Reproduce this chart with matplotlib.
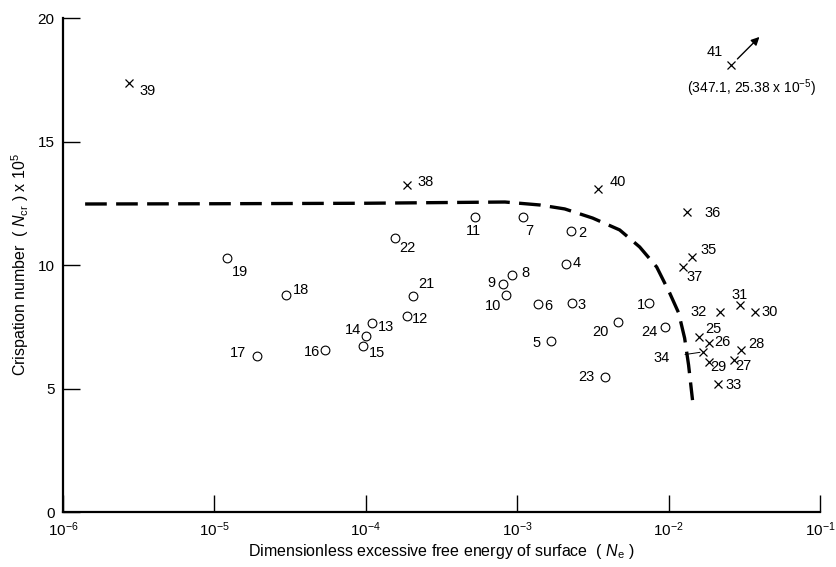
import matplotlib
matplotlib.use("Agg")
import matplotlib.pyplot as plt
from matplotlib.ticker import NullLocator, FixedLocator
from matplotlib.transforms import offset_copy

plt.rcParams['font.family'] = ['Liberation Sans', 'DejaVu Sans']
plt.rcParams['mathtext.fontset'] = 'custom'
plt.rcParams['mathtext.rm'] = 'Liberation Sans'
plt.rcParams['mathtext.it'] = 'Liberation Sans:italic'

# ---- data: open circles ----
circle_ids = ["1", "2", "3", "4", "5", "6", "7", "8", "9", "10", "11", "12",
              "13", "14", "15", "16", "17", "18", "19", "20", "21", "22", "23", "24"]
circle_x = [7.4e-3, 2.25e-3, 2.29e-3, 2.09e-3, 1.66e-3, 1.37e-3, 1.10e-3, 9.3e-4,
            8.1e-4, 8.4e-4, 5.3e-4, 1.87e-4, 1.10e-4, 1.0e-4, 9.55e-5, 5.4e-5,
            1.91e-5, 2.96e-5, 1.21e-5, 4.6e-3, 2.04e-4, 1.55e-4, 3.78e-3, 9.5e-3]
circle_y = [8.46, 11.38, 8.46, 10.04, 6.92, 8.42, 11.94, 9.60,
            9.23, 8.79, 11.94, 7.94, 7.65, 7.13, 6.72, 6.56,
            6.32, 8.79, 10.28, 7.69, 8.74, 11.09, 5.47, 7.49]

# ---- data: crosses ----
cross_ids = ["25", "26", "27", "28", "29", "30", "31", "32", "33", "34",
             "35", "36", "37", "38", "39", "40", "41"]
cross_x = [0.0158, 0.0184, 0.0269, 0.0303, 0.0184, 0.037, 0.0294, 0.0217, 0.0212, 0.0168,
           0.0142, 0.0133, 0.0124, 1.87e-4, 2.73e-6, 3.4e-3, 0.026]
cross_y = [7.08, 6.84, 6.15, 6.56, 6.07, 8.10, 8.38, 8.10, 5.18, 6.48,
           10.32, 12.15, 9.92, 13.24, 17.37, 13.07, 18.1]

# ---- data: dashed curve ----
curve_x = [1.4e-6, 1e-5, 1e-4, 8.3e-4, 1.41e-3, 2.06e-3, 3.15e-3, 4.75e-3, 6.44e-3,
           8.34e-3, 0.01016, 0.01165, 0.01276, 0.01355, 0.01439]
curve_y = [12.47, 12.48, 12.50, 12.55, 12.43, 12.27, 11.90, 11.42, 10.73,
           9.92, 8.87, 8.06, 7.04, 5.95, 4.53]

x_ticks = [1e-6, 1e-5, 1e-4, 1e-3, 1e-2, 1e-1]
y_ticks = [0, 5, 10, 15, 20]

# label offsets in pixels (dx, dy), layout only
offsets = {
    "1": (-8, -2), "2": (12, -2), "3": (10, -2), "4": (11, 1), "5": (-14, -2),
    "6": (10, -2), "7": (6, -14), "8": (13, 2), "9": (-12, 1), "10": (-13, -11),
    "11": (-2, -14), "12": (13, -3), "13": (14, -4), "14": (-13, 6), "15": (14, -7),
    "16": (-13, -2), "17": (-19, 3), "18": (15, 5), "19": (13, -14), "20": (-17, -10),
    "21": (14, 12), "22": (13, -10), "23": (-18, 0), "24": (-16, -5),
    "25": (15, 8), "26": (14, 1), "27": (10, -6), "28": (15, 6), "29": (10, -5),
    "30": (15, 0), "31": (0, 10), "32": (-21, 0), "33": (16, -1),
    "35": (17, 7), "36": (25, -1), "37": (12, -10), "38": (19, 3), "39": (19, -8),
    "40": (20, 7), "41": (-17, 13),
}

fig = plt.figure(figsize=(8.36, 5.67), dpi=100)
ax = fig.add_axes([63 / 836, 55 / 567, (820 - 63) / 836, (512 - 18) / 567])

ax.plot(curve_x, curve_y, color='black', lw=2.4, dashes=(6.5, 2.8),
        dash_capstyle='butt', zorder=2)
ax.plot(circle_x, circle_y, linestyle='none', marker='o', ms=6.3, mfc='white',
        mec='black', mew=0.8, zorder=3)
ax.plot(cross_x, cross_y, linestyle='none', marker='x', ms=5.5, mec='black',
        mew=0.9, zorder=3)

for ids, xs, ys in ((circle_ids, circle_x, circle_y), (cross_ids, cross_x, cross_y)):
    for lab, xv, yv in zip(ids, xs, ys):
        if lab in offsets:
            dx, dy = offsets[lab]
            ax.annotate(lab, (xv, yv), xytext=(dx, dy), textcoords='offset pixels',
                        ha='center', va='center', fontsize=10.5)

# label 34 with a leader line
i34 = cross_ids.index("34")
ax.annotate("34", (cross_x[i34], cross_y[i34]), xytext=(-41, -6), textcoords='offset pixels',
            ha='center', va='center', fontsize=10.5,
            arrowprops=dict(arrowstyle='-', lw=0.7, color='black', shrinkA=9, shrinkB=2))

# arrow and note for point 41
i41 = cross_ids.index("41")
p41 = (cross_x[i41], cross_y[i41])
ax.annotate('', xy=p41, xycoords=offset_copy(ax.transData, fig=fig, x=28, y=28, units='dots'),
            xytext=p41, textcoords=offset_copy(ax.transData, fig=fig, x=6, y=6, units='dots'),
            arrowprops=dict(arrowstyle='-|>', lw=1.0, color='black', mutation_scale=12,
                            shrinkA=0, shrinkB=0))
ax.annotate(r"(347.1, 25.38 x 10$^{-5}$)", p41, xytext=(20, -23), textcoords='offset pixels',
            ha='center', va='center', fontsize=10)

ax.set_xscale('log')
ax.set_xlim(1e-6, 1e-1)
ax.set_ylim(0, 20)
ax.xaxis.set_major_locator(FixedLocator(x_ticks))
ax.xaxis.set_minor_locator(NullLocator())
ax.yaxis.set_major_locator(FixedLocator(y_ticks))

for s in ('top', 'right'):
    ax.spines[s].set_visible(False)
for s in ('left', 'bottom'):
    ax.spines[s].set_linewidth(1.6)

ax.tick_params(axis='both', direction='in', length=12, width=1.0, labelsize=11)
ax.tick_params(axis='y', pad=6)
ax.tick_params(axis='x', pad=6)

ax.set_xlabel(r"Dimensionless excessive free energy of surface  ( $\mathit{N}_{\rm e}$ )",
              fontsize=11.5, labelpad=2)
ax.set_ylabel(r"Crispation number  ( $\mathit{N}_{\rm cr}$ ) x 10$^5$", fontsize=11.5, labelpad=5)

fig.savefig("out.png", dpi=100)
